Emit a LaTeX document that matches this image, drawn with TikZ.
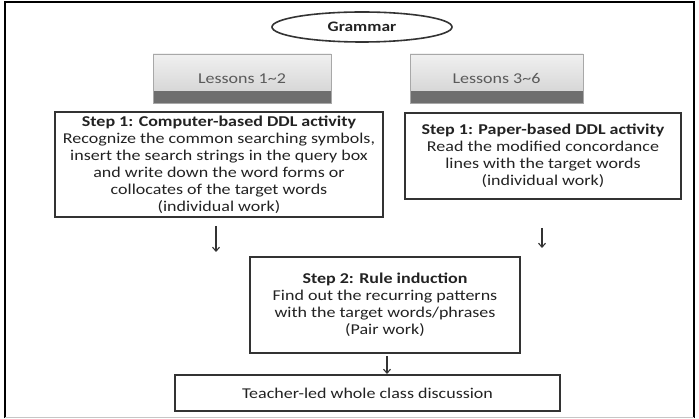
\documentclass[tikz,border=0pt]{standalone}
\usepackage{fontspec}
\setmainfont{Carlito}[FakeStretch=1.2]
\usetikzlibrary{arrows.meta,shapes.geometric}
\definecolor{boxline}{HTML}{333333}
\definecolor{txt}{HTML}{222222}
\definecolor{lesstxt}{HTML}{5A5A5A}
\definecolor{lesstop}{HTML}{F0F0F0}
\definecolor{lessbot}{HTML}{CFCFCF}
\definecolor{lessbar}{HTML}{6E6E6E}
\definecolor{lessedge}{HTML}{A8A8A8}
\tikzset{
  stepbox/.style={draw=boxline, line width=1.6pt, inner sep=0pt, align=center,
    text=txt, font=\fontsize{15}{17}\selectfont},
  lessonbox/.style={draw=lessedge, line width=0.8pt, inner sep=0pt,
    minimum width=178pt, minimum height=49pt,
    top color=lesstop, bottom color=lessbot, text=lesstxt,
    font=\fontsize{15}{17}\selectfont,
    path picture={\fill[lessbar] (path picture bounding box.south west) rectangle ([yshift=12pt]path picture bounding box.south east);}},
  ovalbox/.style={draw=boxline, line width=1.6pt, ellipse, inner sep=0pt,
    minimum width=180pt, minimum height=30pt, text=txt,
    font=\bfseries\fontsize{14.5}{17}\selectfont},
  downarrow/.style={draw=boxline, line width=1.1pt, -{Straight Barb[length=4pt,width=7pt]}}
}
\begin{document}
\begin{tikzpicture}[x=1pt,y=-1pt]
\useasboundingbox (0,0) rectangle (699,419);
% outer frame
\draw[black, line width=2.4pt] (5,418) -- (5,2) -- (694,2) -- (694,418);
\draw[gray!45, line width=1pt] (5,418) -- (694,418);
% title
\node[ovalbox] (gram) at (362,27) {Grammar};
% lessons
\node[lessonbox] (les1) at (242,78.5) {Lessons 1\textasciitilde2};
\node[lessonbox, minimum width=173pt] (les2) at (496.5,78.5) {Lessons 3\textasciitilde6};
% step 1 boxes
\node[stepbox, minimum width=328pt, minimum height=105pt] (s1a) at (219,164.5)
  {\textbf{Step 1: Computer-based DDL activity}\\Recognize the common searching symbols,\\insert the search strings in the query box\\and write down the word forms or\\collocates of the target words\\(individual work)};
\node[stepbox, minimum width=276pt, minimum height=86pt] (s1b) at (543,156)
  {\textbf{Step 1: Paper-based DDL activity}\\Read the modified concordance\\lines with the target words\\(individual work)};
% step 2
\node[stepbox, minimum width=270pt, minimum height=96pt] (s2) at (385,305)
  {\textbf{Step 2: Rule induction}\\Find out the recurring patterns\\with the target words/phrases\\(Pair work)};
% teacher
\node[stepbox, minimum width=385pt, minimum height=36pt] (tch) at (367.5,393)
  {Teacher-led whole class discussion};
% arrows
\coordinate (a1s) at (216,226);
\coordinate (a1e) at (216,252);
\coordinate (a2s) at (542,228);
\coordinate (a2e) at (542,248);
\coordinate (a3s) at (387,356);
\coordinate (a3e) at (387,374);
\draw[downarrow] (a1s) -- (a1e);
\draw[downarrow] (a2s) -- (a2e);
\draw[downarrow] (a3s) -- (a3e);
\end{tikzpicture}
\end{document}
